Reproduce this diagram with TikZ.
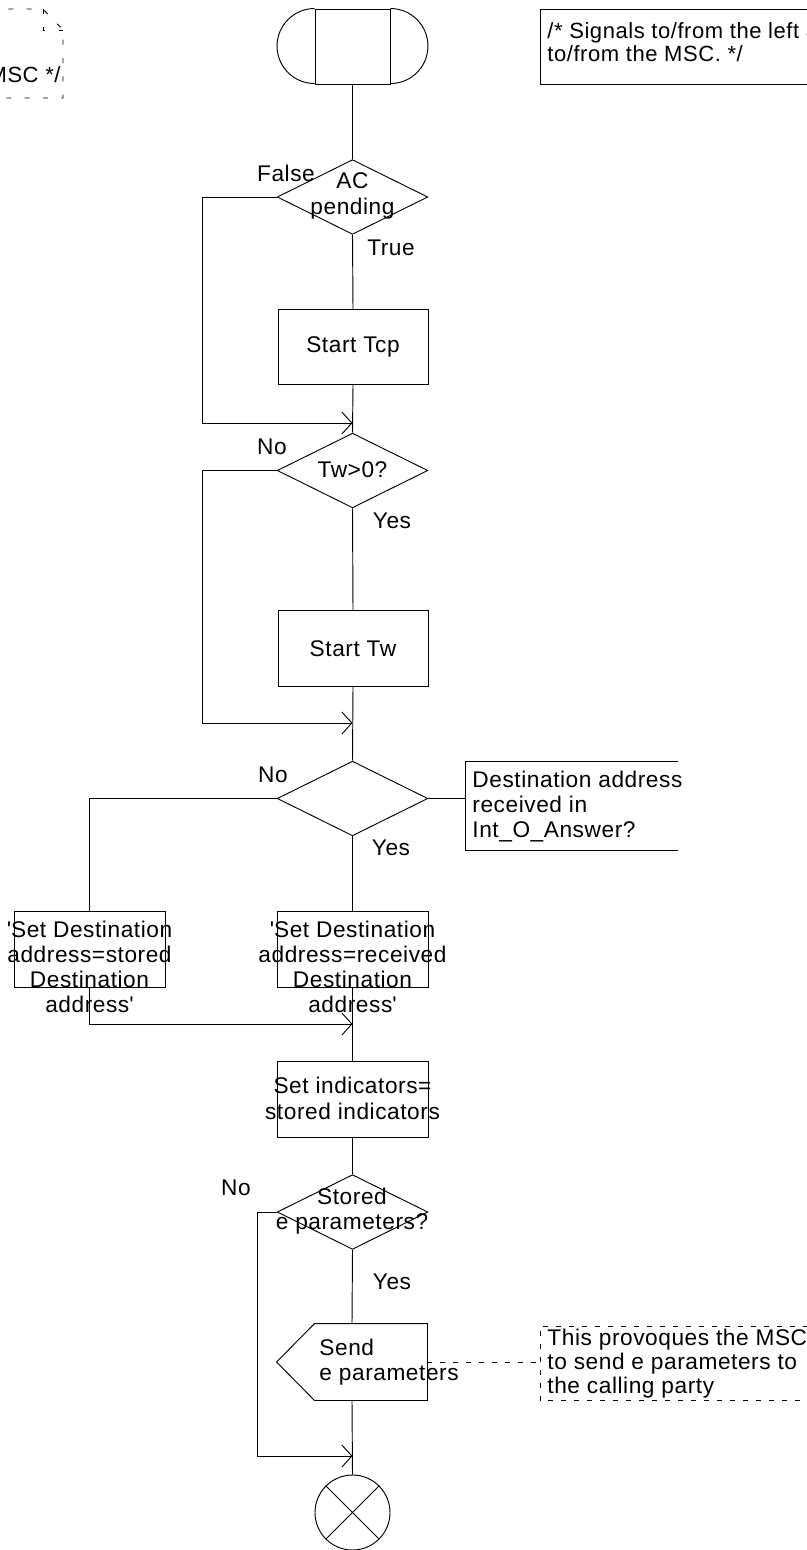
\documentclass[tikz,border=0pt]{standalone}
\usepackage{fontspec}
\setmainfont[LetterSpace=2.5]{Liberation Sans}
\usetikzlibrary{shapes.geometric,arrows.meta}
\begin{document}
\begin{tikzpicture}[x=0.75pt,y=-0.75pt,line width=0.7pt,
  txt/.style={font=\fontsize{17pt}{19pt}\selectfont,inner sep=0pt,align=center},
  ctxt/.style={font=\fontsize{16.5pt}{17.5pt}\selectfont,inner sep=0pt,align=left},
  box/.style={draw,rectangle,minimum width=112.5pt,minimum height=56.5pt,inner sep=0pt},
  dia/.style={draw,diamond,minimum width=113pt,minimum height=56pt,inner sep=0pt},
  arr/.style={-{Straight Barb[length=7.5pt,width=16.5pt]}},
  dsh/.style={dash pattern=on 3.75pt off 6pt}]
\clip (0,0) rectangle (807,1550);

% start symbol
\node[box,minimum width=56.25pt,minimum height=56.25pt] (start) at (352.5,46.5) {};
\draw (start.north west) arc[start angle=90,end angle=270,radius=28.125pt];
\draw (start.north east) arc[start angle=90,end angle=-90,radius=28.125pt];

% top right comment
\node[draw,rectangle,minimum width=210pt,minimum height=56.25pt,inner sep=0pt,anchor=north west] (c1) at (540,9) {};
\node[ctxt,anchor=west] (c1t) at (547,42) {/* Signals to/from the left are\\to/from the MSC. */};

% top left dashed comment
\coordinate (c0a) at (43,9);
\coordinate (c0b) at (63,30);
\draw[dash pattern=on 3.75pt off 10pt] (-10,9) -- (c0a) -- (c0b) -- (63,98) -- (-10,98);
\draw[dash pattern=on 3.75pt off 10pt] (c0a) -- (43,30) -- (c0b);
\node[ctxt,anchor=east] (c0t) at (61,75) {MSC */};

% decision AC pending
\node[dia] (d1) at (352.5,197) {};
\node[txt] (d1t) at (352.5,196) {AC\\pending};
\node[txt] (lF) at (286,173) {False};
\node[txt] (lT) at (391,248) {True};

\node[box] (tcp) at (353,347) {};
\node[txt] (tcpt) at (353,347) {Start Tcp};
\coordinate (j1) at (352.5,423);

% decision Tw>0?
\node[dia] (d2) at (352.5,470.5) {};
\node[txt] (d2t) at (352.5,470) {Tw>0?};
\node[txt] (lN1) at (272,447) {No};
\node[txt] (lY1) at (392,521) {Yes};

\node[box] (tw) at (353,648.5) {};
\node[txt] (twt) at (353,648.5) {Start Tw};
\coordinate (j2) at (352.5,723);

% decision 3
\node[dia] (d3) at (352.5,798.5) {};
\node[txt] (lN2) at (273,775) {No};
\node[txt] (lY2) at (391,848) {Yes};
\node[rectangle,minimum width=159pt,minimum height=66.75pt,inner sep=0pt,anchor=north west] (c2) at (465,761) {};
\draw (c2.north east) -- (c2.north west) -- (c2.south west) -- (c2.south east);
\node[txt,align=left,anchor=west] (c2t) at (472,806.5) {Destination address\\received in\\Int\_O\_Answer?};

% two task boxes
\node[box,minimum width=113.25pt] (lbox) at (89.5,949.5) {};
\node[txt,font=\fontsize{17pt}{18.6pt}\selectfont] (lboxt) at (89.5,967) {\textquotesingle Set Destination\\address=stored\\Destination\\address\textquotesingle};
\node[box,minimum width=113.25pt] (rbox) at (352.5,949.5) {};
\node[txt,font=\fontsize{17pt}{18.6pt}\selectfont] (rboxt) at (352.5,967) {\textquotesingle Set Destination\\address=received\\Destination\\address\textquotesingle};
\coordinate (j3) at (352.5,1024);

\node[box,minimum width=113.25pt] (sind) at (352.5,1099.5) {};
\node[txt,font=\fontsize{17pt}{20pt}\selectfont] (sindt) at (352.5,1098.5) {Set indicators=\\stored indicators};

% decision stored e parameters
\node[dia] (d4) at (352.5,1212) {};
\node[txt] (d4t) at (352,1211) {Stored\\e parameters?};
\node[txt] (lN3) at (236,1188) {No};
\node[txt] (lY3) at (392,1282) {Yes};

% output signal
\node[rectangle,minimum width=112.5pt,minimum height=57pt,inner sep=0pt] (send) at (352,1362) {};
\draw (send.north east) -- (send.south east) -- ([xshift=28.5pt]send.south west) -- (send.west) -- ([xshift=28.5pt]send.north west) -- cycle;
\node[txt,align=left,anchor=west] (sendt) at (319,1362) {Send\\e parameters};

% bottom right dashed comment
\node[rectangle,minimum width=210pt,minimum height=55.5pt,inner sep=0pt,anchor=north west] (c3) at (540,1326) {};
\draw[dsh] (c3.north east) -- (c3.north west) -- (c3.south west) -- (c3.south east);
\node[txt,align=left,anchor=west,font=\fontsize{17pt}{18pt}\selectfont] (c3t) at (547,1364) {This provoques the MSC\\to send e parameters to\\the calling party};
\draw[dsh] (send.east) -- (c3.west |- send.east);

\coordinate (j4) at (352.5,1456);
\node[draw,circle,minimum size=56.25pt,inner sep=0pt] (endc) at (352.5,1512.5) {};
\draw (endc.north west) -- (endc.south east) (endc.north east) -- (endc.south west);

% main connectors
\draw (start.south) -- (d1.north);
\draw (d1.south) -- (tcp.north);
\draw (tcp.south) -- (d2.north);
\draw (d2.south) -- (tw.north);
\draw (tw.south) -- (d3.north);
\draw (d3.south) -- (rbox.north);
\draw (rbox.south) -- (sind.north);
\draw (sind.south) -- (d4.north);
\draw (d4.south) -- (send.north);
\draw (send.south) -- (endc.north);
\draw (d3.east) -- (c2.west |- d3.east);

% branches
\draw[arr] (d1.west) -- ++(-74,0) |- (j1);
\draw[arr] (d2.west) -- ++(-74,0) |- (j2);
\draw (d3.west) -| (lbox.north);
\draw[arr] (lbox.south) |- (j3);
\draw[arr] (d4.west) -- ++(-19,0) |- (j4);
\end{tikzpicture}
\end{document}
